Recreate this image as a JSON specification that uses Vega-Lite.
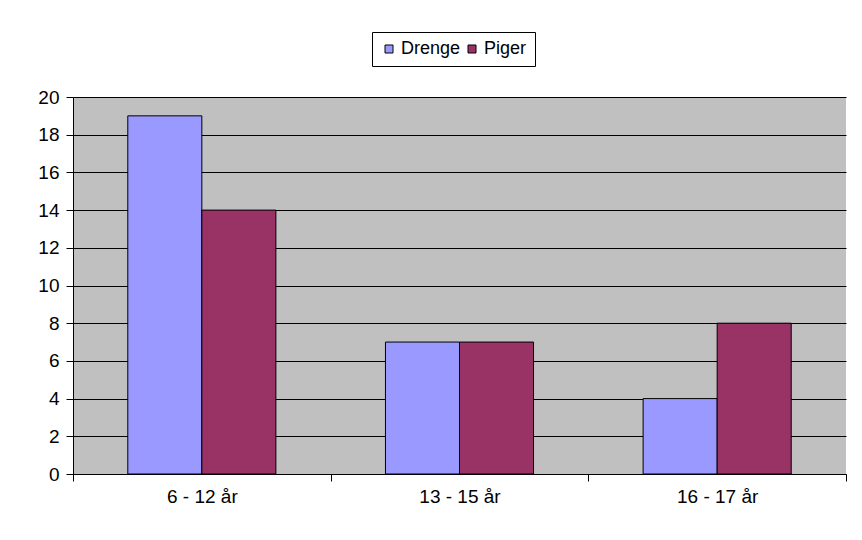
{
  "$schema": "https://vega.github.io/schema/vega-lite/v6.json",
  "width": 773,
  "height": 377,
  "autosize": {"type": "none"},
  "padding": {"left": 73, "top": 97, "right": 16, "bottom": 66},
  "background": "white",
  "data": {
    "values": [
      {"group": "6 - 12 år", "gender": "Drenge", "value": 19},
      {"group": "6 - 12 år", "gender": "Piger", "value": 14},
      {"group": "13 - 15 år", "gender": "Drenge", "value": 7},
      {"group": "13 - 15 år", "gender": "Piger", "value": 7},
      {"group": "16 - 17 år", "gender": "Drenge", "value": 4},
      {"group": "16 - 17 år", "gender": "Piger", "value": 8}
    ]
  },
  "mark": {"type": "bar", "stroke": "black", "strokeWidth": 1, "strokeOpacity": 1},
  "encoding": {
    "x": {
      "field": "group",
      "type": "nominal",
      "sort": ["6 - 12 år", "13 - 15 år", "16 - 17 år"],
      "scale": {"paddingInner": 0, "paddingOuter": 0},
      "axis": {
        "title": null,
        "labelAngle": 0,
        "tickBand": "extent",
        "domainColor": "black",
        "domainWidth": 1,
        "tickColor": "black",
        "tickSize": 7,
        "labelPadding": 6,
        "labelFontSize": 19,
        "labelFont": "Liberation Sans",
        "labelColor": "black",
        "grid": false
      }
    },
    "xOffset": {
      "field": "gender",
      "type": "nominal",
      "sort": ["Drenge", "Piger"],
      "scale": {"paddingOuter": 0.74, "paddingInner": 0}
    },
    "y": {
      "field": "value",
      "type": "quantitative",
      "scale": {"domain": [0, 20], "nice": false},
      "axis": {
        "title": null,
        "values": [0, 2, 4, 6, 8, 10, 12, 14, 16, 18, 20],
        "grid": true,
        "gridColor": "black",
        "gridWidth": 1,
        "gridOpacity": 1,
        "domainColor": "black",
        "tickColor": "black",
        "tickSize": 7,
        "labelPadding": 7,
        "labelFontSize": 19,
        "labelFont": "Liberation Sans",
        "labelColor": "black"
      }
    },
    "color": {
      "field": "gender",
      "type": "nominal",
      "sort": ["Drenge", "Piger"],
      "scale": {"domain": ["Drenge", "Piger"], "range": ["#9999FF", "#993366"]},
      "legend": {
        "title": null,
        "orient": "none",
        "legendX": 299,
        "legendY": -65,
        "direction": "horizontal",
        "strokeColor": "black",
        "fillColor": "white",
        "padding": 8,
        "symbolType": "square",
        "symbolSize": 64,
        "symbolStrokeColor": "black",
        "symbolStrokeWidth": 1,
        "symbolOpacity": 1,
        "labelFontSize": 18,
        "labelFont": "Liberation Sans",
        "labelColor": "black",
        "labelOffset": 3,
        "columnPadding": 2
      }
    }
  },
  "config": {
    "view": {"fill": "#C0C0C0", "stroke": null},
    "axis": {"ticks": true}
  }
}
